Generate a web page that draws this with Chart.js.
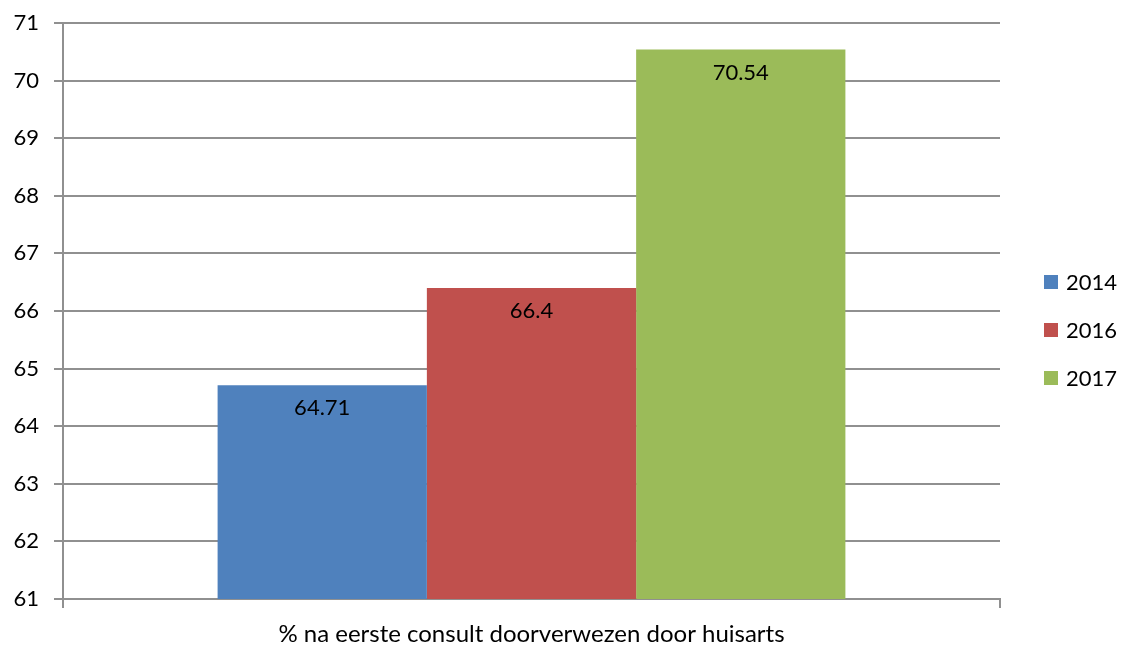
<!DOCTYPE html>
<html>
<head>
<meta charset="utf-8">
<script src="https://cdn.jsdelivr.net/npm/chart.js@4/dist/chart.umd.min.js"></script>
<style>
  html, body { margin: 0; padding: 0; background: #fff; }
  #wrap { width: 1122px; height: 646px; }
</style>
</head>
<body>
<div id="wrap"><canvas id="chart" width="1122" height="646"></canvas></div>
<script>
const categories = ['% na eerste consult doorverwezen door huisarts'];
const seriesNames = ['2014', '2016', '2017'];
const values2014 = [64.71];
const values2016 = [66.4];
const values2017 = [70.54];
const seriesColors = ['#4F81BD', '#C0504D', '#9BBB59'];
const yTicks = [61, 62, 63, 64, 65, 66, 67, 68, 69, 70, 71];

const FONT = 'Lato, "Open Sans", sans-serif';

// value labels inside the top of each bar
const barLabels = {
  id: 'barLabels',
  afterDatasetsDraw(chart) {
    const ctx = chart.ctx;
    ctx.save();
    ctx.font = '22px ' + FONT;
    ctx.fillStyle = '#000';
    ctx.textAlign = 'center';
    ctx.textBaseline = 'middle';
    chart.data.datasets.forEach((ds, i) => {
      chart.getDatasetMeta(i).data.forEach((bar, j) => {
        ctx.fillText(String(ds.data[j]), bar.x, bar.y + 23);
      });
    });
    ctx.restore();
  },
};

// legend on the right, drawn like the original
const sideLegend = {
  id: 'sideLegend',
  afterDraw(chart) {
    const ctx = chart.ctx;
    const n = chart.data.datasets.length;
    const rowGap = 48;
    const midY = 330;
    ctx.save();
    ctx.font = '22px ' + FONT;
    ctx.textBaseline = 'middle';
    chart.data.datasets.forEach((ds, i) => {
      const y = midY + (i - (n - 1) / 2) * rowGap;
      ctx.fillStyle = ds.backgroundColor;
      ctx.fillRect(1044, y - 7, 14, 14);
      ctx.fillStyle = '#000';
      ctx.fillText(ds.label, 1066, y + 1);
    });
    ctx.restore();
  },
};

const ctx = document.getElementById('chart').getContext('2d');
new Chart(ctx, {
  type: 'bar',
  data: {
    labels: categories,
    datasets: [
      { label: seriesNames[0], data: values2014, backgroundColor: seriesColors[0] },
      { label: seriesNames[1], data: values2016, backgroundColor: seriesColors[1] },
      { label: seriesNames[2], data: values2017, backgroundColor: seriesColors[2] },
    ],
  },
  options: {
    responsive: false,
    animation: false,
    devicePixelRatio: 1,
    layout: { padding: { left: 0, right: 122, top: 23, bottom: 0 } },
    datasets: { bar: { categoryPercentage: 0.67, barPercentage: 1.0 } },
    plugins: { legend: { display: false }, tooltip: { enabled: false } },
    scales: {
      x: {
        offset: true,
        grid: {
          offset: true,
          drawOnChartArea: false,
          color: '#909090',
          lineWidth: 2,
          tickLength: 9,
        },
        border: { color: '#909090', width: 2 },
        ticks: { color: '#000', font: { family: FONT, size: 24 }, padding: 12 },
        afterFit(scale) { scale.height = 47; scale.paddingLeft = 0; scale.paddingRight = 0; },
      },
      y: {
        min: 61,
        max: 71,
        afterBuildTicks(scale) { scale.ticks = yTicks.map((v) => ({ value: v })); },
        grid: { color: '#909090', lineWidth: 2, tickLength: 9 },
        border: { color: '#909090', width: 2 },
        ticks: { color: '#000', font: { family: FONT, size: 22 }, padding: 15 },
        afterFit(scale) { scale.width = 63; scale.paddingTop = 0; scale.paddingBottom = 0; },
      },
    },
  },
  plugins: [barLabels, sideLegend],
});
</script>
</body>
</html>
